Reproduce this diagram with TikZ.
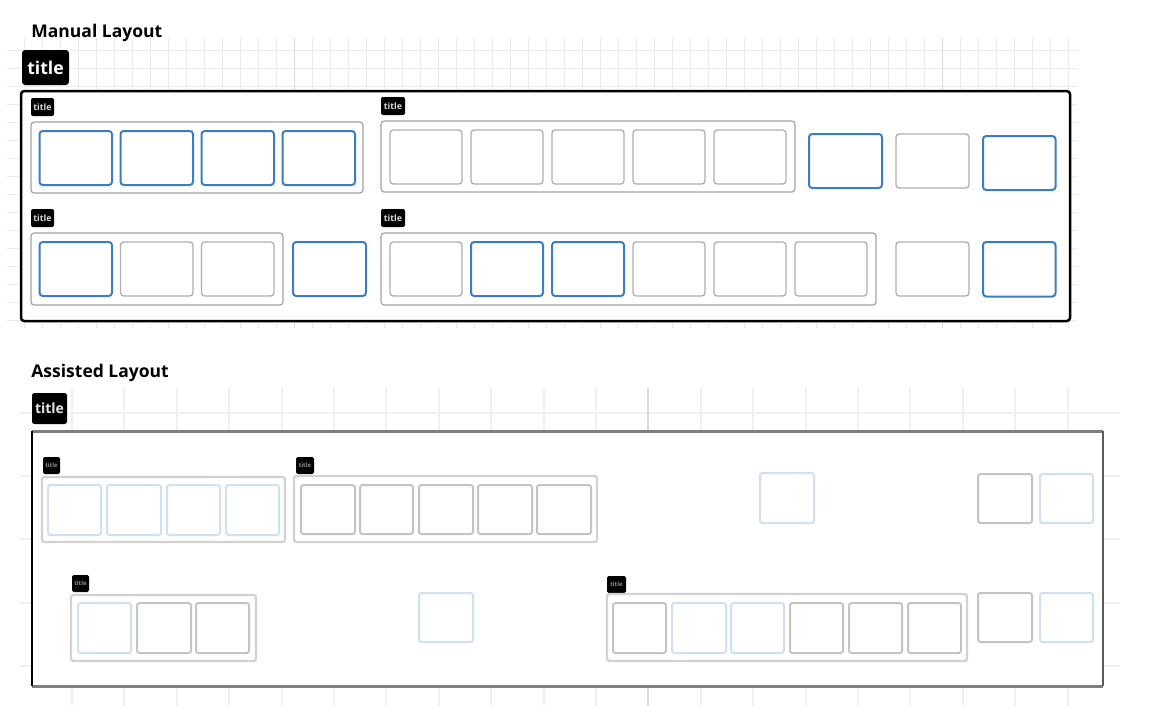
\documentclass[tikz,border=0pt]{standalone}
\usepackage{fontspec}
\newfontfamily\hd{Open Sans}
\definecolor{mblue}{HTML}{3B7DC2}
\definecolor{mgray}{HTML}{AEAEAE}
\definecolor{mgrp}{HTML}{A2A2A2}
\definecolor{gridc}{HTML}{EBEBEB}
\definecolor{gridd}{HTML}{DADADA}
\definecolor{ablue}{HTML}{CFE0F4}
\definecolor{agray}{HTML}{C4C4C4}
\definecolor{agrp}{HTML}{D2D2D2}
\definecolor{agridc}{HTML}{F0F0F0}
\definecolor{aframe}{HTML}{5A5A5A}
\definecolor{aframeh}{HTML}{7E7E7E}
\tikzset{
  base/.style={inner sep=0pt, outer sep=0pt, fill=white},
  mbluebox/.style={base, draw=mblue, line width=1pt, rounded corners=1.6pt},
  mgraybox/.style={base, draw=mgray, line width=0.65pt, rounded corners=1.6pt},
  mgroup/.style={base, draw=mgrp, line width=0.6pt, rounded corners=1.6pt},
  mframe/.style={base, draw=black, line width=1.25pt, rounded corners=1.6pt},
  bigtag/.style={inner sep=0pt, outer sep=0pt, fill=black, rounded corners=1.6pt, text=white, font=\hd\bfseries\fontsize{8.8}{9}\selectfont},
  tag/.style={inner sep=0pt, outer sep=0pt, fill=black, rounded corners=1pt, text=black!15, font=\hd\bfseries\fontsize{4.4}{5}\selectfont},
  abluebox/.style={base, draw=ablue, line width=1pt, rounded corners=1.2pt},
  agraybox/.style={base, draw=agray, line width=1pt, rounded corners=1.2pt},
  agroup/.style={base, draw=agrp, line width=1.2pt, rounded corners=1.2pt},
  aframe/.style={base},
  aframeedge/.style={draw=aframe, line width=1pt},
  aframehz/.style={draw=aframeh, line width=1.5pt},
  aframeleft/.style={draw=black, line width=0.6pt},
  atag/.style={inner sep=0pt, outer sep=0pt, fill=black, rounded corners=0.8pt, text=black!45, font=\hd\bfseries\fontsize{3}{3}\selectfont},
  abigtag/.style={inner sep=0pt, outer sep=0pt, fill=black, rounded corners=1.2pt, text=black!10, font=\hd\bfseries\fontsize{7}{8}\selectfont},
  heading/.style={inner sep=0pt, font=\hd\bfseries\fontsize{8.75}{9}\selectfont, anchor=base west},
  gridline/.style={draw=gridc, line width=0.5pt},
  gridlined/.style={draw=gridd, line width=0.6pt},
  agridline/.style={draw=agridc, line width=1pt},
}
\newcommand\bx[6]{\node[#1, anchor=north west, minimum width={(#5)*0.5pt}, minimum height={(#6)*0.5pt}] (#2) at (#3,#4) {};}
\newcommand\tg[6]{\node[#1, anchor=north west, minimum width={(#5)*0.5pt}, minimum height={(#6)*0.5pt}] (#2) at (#3,#4) {title};}
\begin{document}
\begin{tikzpicture}[x=0.5pt,y=-0.5pt]
\useasboundingbox (0,0) rectangle (1152,720);
\fill[white] (0,0) rectangle (1152,720);
% ---------------- Manual layout ----------------
\node[heading] (h1) at (31,37) {Manual Layout};
\foreach \k in {0,...,58} \draw[gridline] ({24.3+18*\k},38) -- ({24.3+18*\k},328);
\foreach \k in {0,...,15} \draw[gridline] (7,{50+18*\k}) -- (1078,{50+18*\k});
\foreach \k in {15,51} \draw[gridlined] ({24.3+18*\k},38) -- ({24.3+18*\k},328);
\tg{bigtag}{t0}{22}{50}{47}{35}
\bx{mframe}{frame1}{21}{91}{1049}{230}
% row 1
\tg{tag}{t1}{31}{98}{23}{18}
\bx{mgroup}{g1}{31}{122}{332}{71}
\bx{mbluebox}{g1a}{39.5}{131}{72.5}{54}
\bx{mbluebox}{g1b}{120.5}{131}{72.5}{54}
\bx{mbluebox}{g1c}{201.5}{131}{72.5}{54}
\bx{mbluebox}{g1d}{282.5}{131}{72.5}{54}
\tg{tag}{t2}{381}{97}{24}{18}
\bx{mgroup}{g2}{381}{121}{414}{71}
\bx{mgraybox}{g2a}{390}{130}{72}{54}
\bx{mgraybox}{g2b}{471}{130}{72}{54}
\bx{mgraybox}{g2c}{552}{130}{72}{54}
\bx{mgraybox}{g2d}{633}{130}{72}{54}
\bx{mgraybox}{g2e}{714}{130}{72}{54}
\bx{mbluebox}{s1}{809}{134}{73}{54}
\bx{mgraybox}{s2}{896}{134}{73}{54}
\bx{mbluebox}{s3}{983}{136}{72.5}{54}
% row 2
\tg{tag}{t3}{31}{209}{23}{18}
\bx{mgroup}{g3}{31}{233}{252}{72}
\bx{mbluebox}{g3a}{39.5}{242}{72.5}{54}
\bx{mgraybox}{g3b}{120.5}{242}{72.5}{54}
\bx{mgraybox}{g3c}{201.5}{242}{72.5}{54}
\bx{mbluebox}{s4}{293}{242}{73}{54}
\tg{tag}{t4}{381}{209}{24}{18}
\bx{mgroup}{g4}{381}{233}{495}{72}
\bx{mgraybox}{g4a}{390}{242}{72}{54}
\bx{mbluebox}{g4b}{471}{242}{72}{54}
\bx{mbluebox}{g4c}{552}{242}{72}{54}
\bx{mgraybox}{g4d}{633}{242}{72}{54}
\bx{mgraybox}{g4e}{714}{242}{72}{54}
\bx{mgraybox}{g4f}{795}{242}{72}{54}
\bx{mgraybox}{s5}{896}{242}{73}{54}
\bx{mbluebox}{s6}{983}{242}{72.5}{54.5}
% ---------------- Assisted layout ----------------
\node[heading] (h2) at (31,377) {Assisted Layout};
\foreach \k in {0,...,19} \draw[agridline] ({72+52.4*\k},388) -- ({72+52.4*\k},706);
\foreach \k in {0,...,4} \draw[agridline] (20,{413+63.2*\k}) -- (1120,{413+63.2*\k});
\draw[agridline, draw=gridd] ({72+52.4*11},388) -- ({72+52.4*11},706);
\tg{abigtag}{u0}{32}{393}{35}{31}
\bx{aframe}{frame2}{32}{431}{1071}{255}
\draw[aframehz] (frame2.north west) -- (frame2.north east);
\draw[aframehz] (frame2.south west) -- (frame2.south east);
\draw[aframeedge] (frame2.north east) -- (frame2.south east);
\draw[aframeleft] (frame2.north west) -- (frame2.south west);
% row 1
\tg{atag}{u1}{43}{457}{17}{17}
\bx{agroup}{a1}{42}{477}{243}{65}
\bx{abluebox}{a1a}{48}{485}{53}{50}
\bx{abluebox}{a1b}{107}{485}{54}{50}
\bx{abluebox}{a1c}{167}{485}{53}{50}
\bx{abluebox}{a1d}{226}{485}{53}{50}
\tg{atag}{u2}{296}{457}{18}{17}
\bx{agroup}{a2}{294}{476}{303}{66}
\bx{agraybox}{a2a}{301}{485}{54}{49}
\bx{agraybox}{a2b}{360}{485}{53}{49}
\bx{agraybox}{a2c}{419}{485}{54}{49}
\bx{agraybox}{a2d}{478}{485}{54}{49}
\bx{agraybox}{a2e}{537}{485}{54}{49}
\bx{abluebox}{r1}{760}{473}{54}{50}
\bx{agraybox}{r2}{978}{474}{54}{49}
\bx{abluebox}{r3}{1040}{474}{53}{49}
% row 2
\tg{atag}{u3}{72}{575}{17}{17}
\bx{agroup}{a3}{71}{595}{185}{66}
\bx{abluebox}{a3a}{78}{603}{53}{50}
\bx{agraybox}{a3b}{137}{603}{54}{50}
\bx{agraybox}{a3c}{196}{603}{53}{50}
\bx{abluebox}{r4}{419}{593}{54}{49}
\tg{atag}{u4}{607}{576}{19}{17}
\bx{agroup}{a4}{607}{594}{360}{67}
\bx{agraybox}{a4a}{613}{603}{53}{50}
\bx{abluebox}{a4b}{672}{603}{54}{50}
\bx{abluebox}{a4c}{731}{603}{53}{50}
\bx{agraybox}{a4d}{790}{603}{53}{50}
\bx{agraybox}{a4e}{849}{603}{53}{50}
\bx{agraybox}{a4f}{908}{603}{53}{50}
\bx{agraybox}{r5}{978}{593}{54}{49}
\bx{abluebox}{r6}{1040}{593}{53}{49}
\end{tikzpicture}
\end{document}
